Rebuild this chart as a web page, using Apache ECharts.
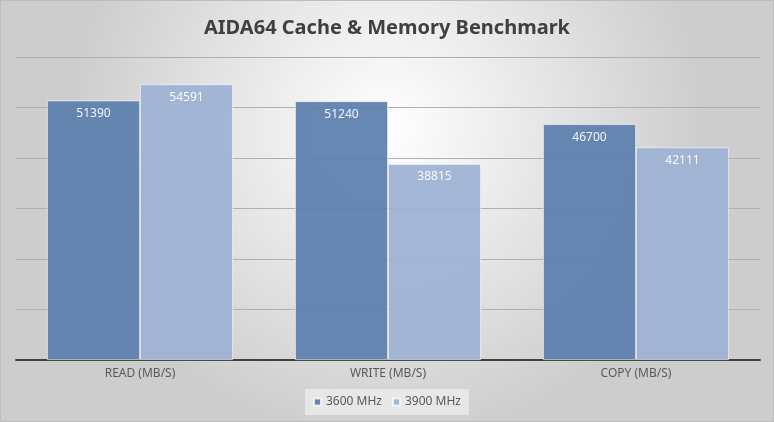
<!DOCTYPE html>
<html>
<head>
<meta charset="utf-8">
<script src="https://cdn.jsdelivr.net/npm/echarts@6/dist/echarts.min.js"></script>
<style>
  html, body { margin: 0; padding: 0; }
  #chart { width: 774px; height: 422px; }
</style>
</head>
<body>
<div id="chart"></div>
<script>
var categories = ['READ (MB/S)', 'WRITE (MB/S)', 'COPY (MB/S)'];
var mhz3600 = [51390, 51240, 46700];
var mhz3900 = [54591, 38815, 42111];
var seriesNames = ['3600 MHz', '3900 MHz'];

var font = "'Noto Sans', 'Open Sans', sans-serif";

function barSeries(name, data, color) {
    return {
        name: name,
        type: 'bar',
        data: data,
        barGap: '0%',
        barCategoryGap: '25%',
        itemStyle: {
            color: color,
            opacity: 0.93,
            borderColor: 'rgba(255,255,255,0.8)',
            borderWidth: 0.8
        },
        label: {
            show: true,
            position: 'insideTop',
            distance: 7,
            color: '#fff',
            fontFamily: font,
            fontSize: 12
        }
    };
}

var myChart = echarts.init(document.getElementById('chart'));
myChart.setOption({
    animation: false,
    backgroundColor: new echarts.graphic.RadialGradient(0.5, 0.3, 0.75, [
        { offset: 0, color: '#ffffff' },
        { offset: 1, color: '#cdcdcd' }
    ]),
    title: {
        text: 'AIDA64 Cache & Memory Benchmark',
        left: 'center',
        top: 13,
        textStyle: {
            color: '#404040',
            fontFamily: font,
            fontWeight: 'bold',
            fontSize: 20
        }
    },
    legend: {
        bottom: 7,
        left: 'center',
        itemWidth: 7,
        itemHeight: 7,
        itemGap: 10,
        padding: [7, 8],
        backgroundColor: 'rgba(240,240,240,0.7)',
        icon: 'rect',
        textStyle: { color: '#595959', fontFamily: font, fontSize: 12 },
        data: seriesNames
    },
    grid: {
        left: 16,
        right: 14,
        top: 57,
        bottom: 62
    },
    xAxis: {
        type: 'category',
        data: categories,
        axisTick: { show: false },
        axisLine: { lineStyle: { color: '#404040', width: 2 } },
        axisLabel: { color: '#595959', fontFamily: font, fontSize: 12, margin: 8 }
    },
    yAxis: {
        type: 'value',
        min: 0,
        max: 60000,
        interval: 10000,
        axisLabel: { show: false },
        axisLine: { show: false },
        axisTick: { show: false },
        splitLine: { lineStyle: { color: '#b0b0b0', width: 1 } }
    },
    series: [
        barSeries(seriesNames[0], mhz3600, '#5a7fad'),
        barSeries(seriesNames[1], mhz3900, '#9db1d3')
    ],
    graphic: [{
        type: 'rect',
        shape: { x: 0.5, y: 0.5, width: 773, height: 421 },
        style: { fill: 'none', stroke: '#bdbdbd', lineWidth: 1 },
        silent: true
    }]
});
</script>
</body>
</html>
